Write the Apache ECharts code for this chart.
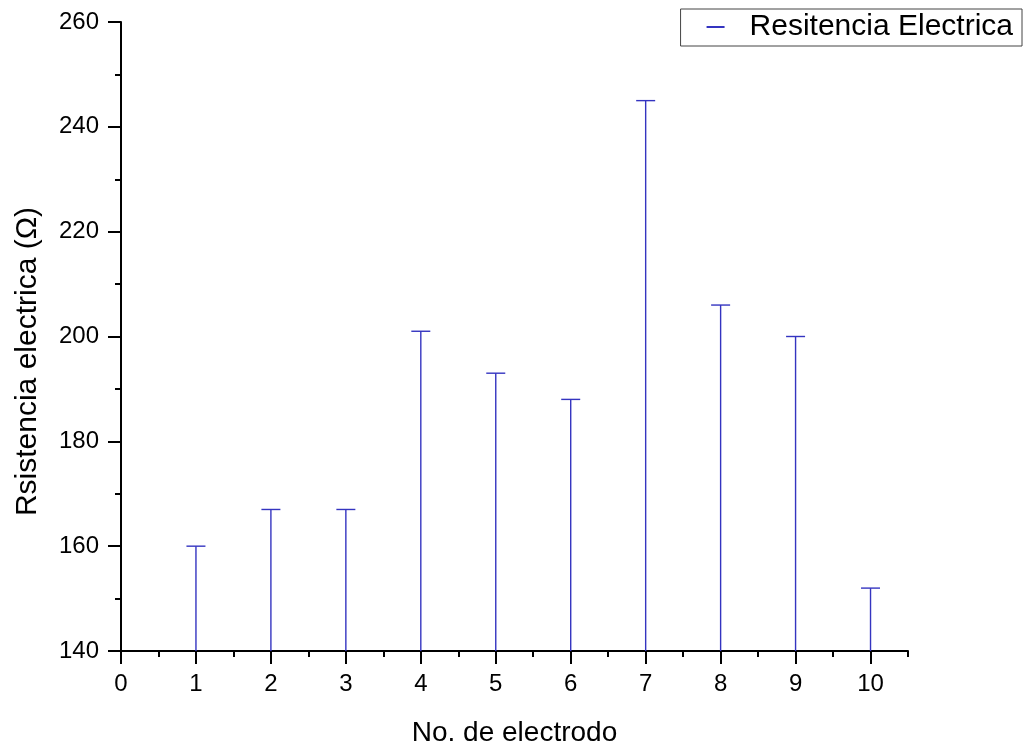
<!DOCTYPE html>
<html>
<head>
<meta charset="utf-8">
<title>Resitencia Electrica</title>
<script src="https://cdn.jsdelivr.net/npm/echarts@6/dist/echarts.min.js"></script>
<style>
  html, body { margin: 0; padding: 0; background: #fff; }
  #chart { width: 1026px; height: 752px; }
</style>
</head>
<body>
<div id="chart"></div>
<script>
// Electrode numbers and measured resistance (ohms)
const electrodos = [1, 2, 3, 4, 5, 6, 7, 8, 9, 10];
const resistencia = [160, 167, 167, 201, 193, 188, 245, 206, 200, 152];
const xTicks = [0, 1, 2, 3, 4, 5, 6, 7, 8, 9, 10];
const yTicks = [140, 160, 180, 200, 220, 240, 260];
const serieNombre = 'Resitencia Electrica';

const FONT = '"Liberation Sans", Arial, Helvetica, sans-serif';
const LINE_COLOR = '#3434c0';
const BASE = yTicks[0];

const chart = echarts.init(document.getElementById('chart'));

// Drop line from each value down to the axis base, with a short cap on top
function renderDrop(params, api) {
  const x = api.value(0);
  const y = api.value(1);
  const top = api.coord([x, y]);
  const bottom = api.coord([x, BASE]);
  const style = { stroke: LINE_COLOR, lineWidth: 1.4 };
  return {
    type: 'group',
    children: [
      { type: 'line', shape: { x1: top[0], y1: top[1], x2: bottom[0], y2: bottom[1] }, style: style },
      { type: 'line', shape: { x1: top[0] - 9.5, y1: top[1], x2: top[0] + 9.5, y2: top[1] }, style: style }
    ]
  };
}

const axisLine = { show: true, lineStyle: { color: '#000', width: 2 } };

chart.setOption({
  animation: false,
  backgroundColor: '#fff',
  textStyle: { fontFamily: FONT },
  grid: { left: 121, right: 118, top: 22, bottom: 95, containLabel: false },
  legend: {
    right: 4,
    top: 9,
    orient: 'horizontal',
    padding: [3, 9, 4, 26],
    borderColor: '#444',
    borderWidth: 1,
    itemWidth: 18,
    itemHeight: 2,
    data: [{ name: serieNombre, icon: 'rect' }],
    textStyle: { fontFamily: FONT, fontSize: 30, color: '#000', padding: [0, 0, 0, 20] }
  },
  xAxis: [
    {
      type: 'value',
      position: 'bottom',
      min: 0,
      max: 10.5,
      interval: 0.5,
      name: 'No. de electrodo',
      nameLocation: 'middle',
      nameGap: 68,
      nameTextStyle: { fontFamily: FONT, fontSize: 28, color: '#000' },
      axisLine: axisLine,
      axisTick: { show: true, length: 6, lineStyle: { color: '#000', width: 2 } },
      axisLabel: {
        customValues: xTicks,
        fontFamily: FONT, fontSize: 24, color: '#000', margin: 21
      },
      splitLine: { show: false }
    },
    {
      type: 'value',
      position: 'bottom',
      min: 0,
      max: 10.5,
      interval: 1,
      axisLine: { show: false },
      axisTick: { show: true, customValues: xTicks, length: 13, lineStyle: { color: '#000', width: 2 } },
      axisLabel: { show: false },
      splitLine: { show: false }
    }
  ],
  yAxis: {
    type: 'value',
    min: yTicks[0],
    max: yTicks[yTicks.length - 1],
    interval: 20,
    name: 'Rsistencia electrica (\u03A9)',
    nameLocation: 'middle',
    nameGap: 78,
    nameTextStyle: { fontFamily: FONT, fontSize: 30, color: '#000', padding: [0, 50, 0, 0] },
    axisLine: axisLine,
    axisTick: { show: true, length: 13, lineStyle: { color: '#000', width: 2 } },
    minorTick: { show: true, splitNumber: 2, length: 6, lineStyle: { color: '#000', width: 2 } },
    axisLabel: { fontFamily: FONT, fontSize: 24, color: '#000', margin: 22 },
    splitLine: { show: false }
  },
  series: [
    {
      name: serieNombre,
      type: 'custom',
      xAxisIndex: 0,
      yAxisIndex: 0,
      itemStyle: { color: LINE_COLOR },
      renderItem: renderDrop,
      encode: { x: 0, y: 1 },
      data: electrodos.map((e, i) => [e, resistencia[i]])
    }
  ]
});
</script>
</body>
</html>
